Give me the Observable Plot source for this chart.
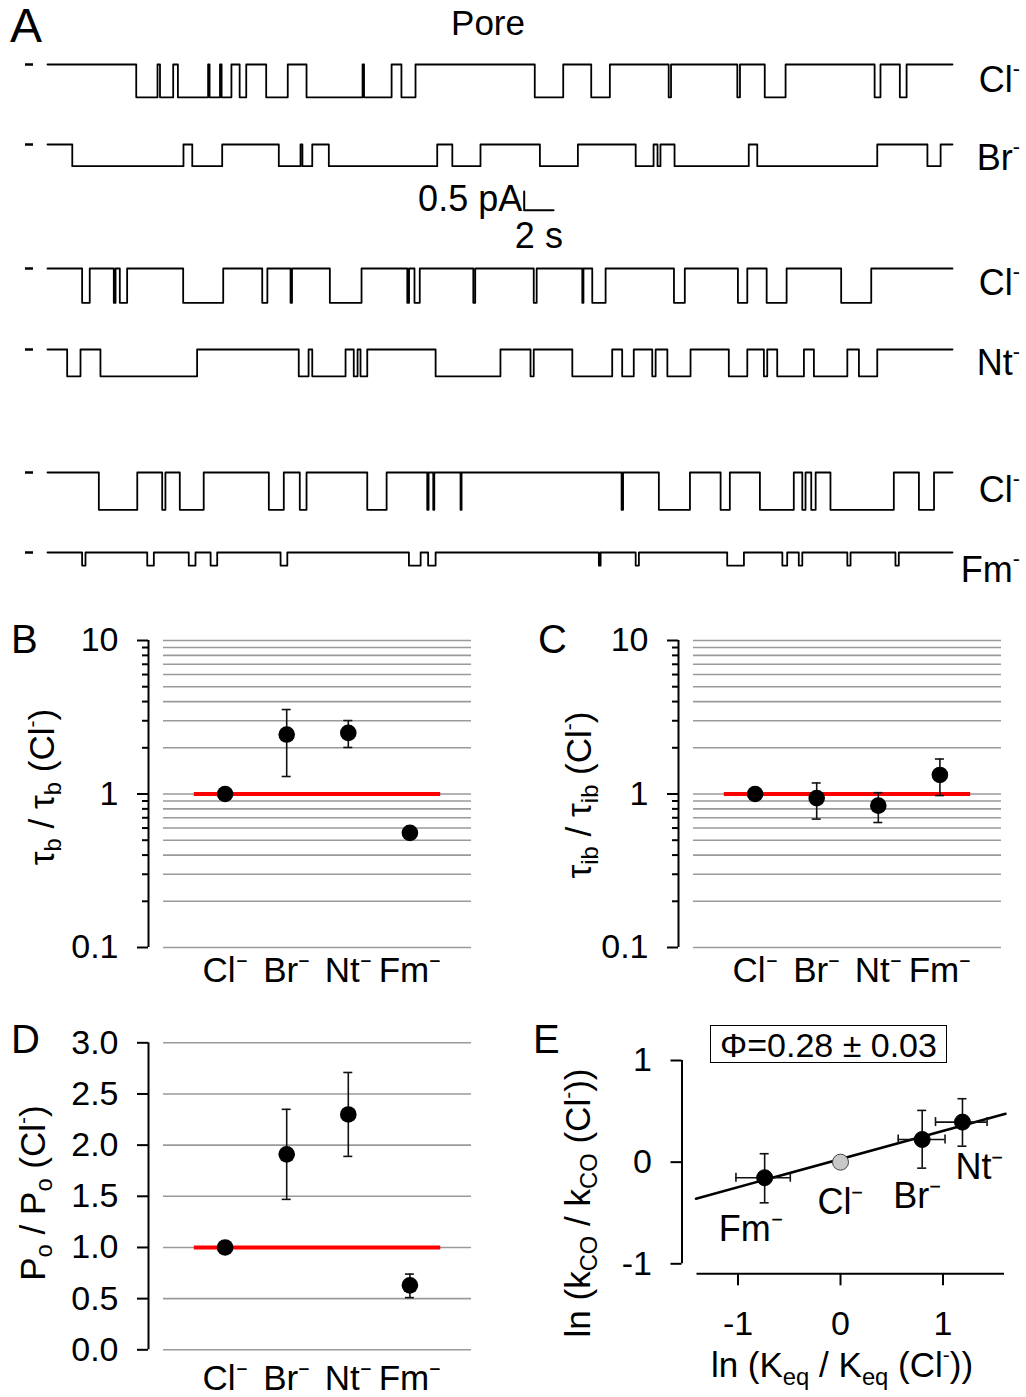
<!DOCTYPE html>
<html><head><meta charset="utf-8">
<script src="https://cdn.jsdelivr.net/npm/d3@7"></script>
<script src="https://cdn.jsdelivr.net/npm/@observablehq/plot@0.6"></script>
<style>
body{margin:0;background:#fff;}
#fig{position:relative;width:1026px;height:1397px;font-family:"Liberation Sans",Arial,sans-serif;color:#000;overflow:hidden;background:#fff}
#fig svg{position:absolute;overflow:visible;background:transparent}
.abs{position:absolute;white-space:nowrap;line-height:1}
.sub{font-size:0.68em;vertical-align:-0.32em}
.sup{font-size:0.6em;vertical-align:0.72em}
.box{position:absolute;border:1.5px solid #000;box-sizing:border-box;text-align:center;line-height:1;white-space:nowrap}
</style></head><body><div id="fig"></div>
<script>
// ---------------- Panel A: single-channel traces (toggle times in s) ----------------
const traceDuration = 61.7;            // s
const traceNames = ["Cl", "Br", "Cl", "Nt", "Cl", "Fm"];
const traceAmps = [0.88, 0.58, 0.92, 0.72, 1.0, 0.35];   // pA unitary amplitude
const toggCl1 = [6.05, 7.50, 7.67, 8.57, 8.89, 10.95, 11.05, 11.76, 11.87, 12.54, 13.10, 13.55, 14.91, 16.38, 17.66, 21.48, 21.58, 23.46, 24.13, 25.09, 33.22, 35.16, 37.07, 38.34, 42.35, 42.51, 47.03, 47.21, 48.90, 50.32, 56.39, 56.79, 58.11, 58.57];
const toggBr = [1.69, 9.27, 9.87, 11.91, 15.77, 17.25, 17.38, 18.05, 19.18, 26.57, 27.60, 29.52, 33.57, 36.16, 40.10, 41.32, 41.59, 41.79, 42.75, 47.81, 48.39, 56.57, 59.99, 60.89];
const toggCl2 = [2.36, 2.88, 4.52, 4.64, 4.93, 5.43, 9.25, 11.98, 14.64, 14.99, 16.57, 16.67, 19.25, 21.41, 24.53, 24.65, 25.02, 25.38, 29.03, 29.16, 33.15, 33.35, 36.46, 36.54, 37.14, 38.05, 42.71, 43.45, 47.07, 47.71, 49.03, 50.39, 54.11, 56.16];
const toggNt = [1.34, 2.25, 3.61, 10.20, 17.13, 17.80, 18.05, 20.32, 20.88, 21.14, 21.34, 21.80, 26.46, 30.88, 32.93, 33.15, 35.78, 38.50, 39.18, 39.97, 41.23, 41.46, 42.26, 43.84, 46.45, 47.71, 48.84, 49.07, 49.75, 51.57, 52.25, 54.53, 55.32, 56.57];
const toggCl3 = [3.50, 6.12, 7.82, 8.04, 9.02, 10.65, 15.09, 16.11, 17.20, 17.66, 21.80, 23.12, 25.89, 25.98, 26.30, 26.37, 28.16, 28.23, 39.14, 39.24, 41.68, 43.80, 45.89, 46.52, 48.57, 50.88, 51.46, 51.68, 52.07, 52.37, 53.38, 57.70, 59.41, 60.44];
const toggFm = [2.36, 2.59, 6.80, 7.25, 9.63, 10.09, 11.12, 11.57, 15.89, 16.35, 24.64, 25.44, 25.95, 26.46, 37.59, 37.71, 40.10, 40.32, 46.34, 47.48, 50.10, 50.43, 51.22, 51.46, 54.53, 54.75, 57.81, 58.04];
const traceToggles = [toggCl1, toggBr, toggCl2, toggNt, toggCl3, toggFm];
const scaleBarTime = 2;      // s
const scaleBarCurrent = 0.5; // pA

// ---------------- Panels B-E ----------------
const ions = ["Cl", "Br", "Nt", "Fm"];
const tauB   = [1, 2.44, 2.50, 0.558];
const tauBLo = [1, 1.30, 2.01, 0.558];
const tauBHi = [1, 3.55, 3.01, 0.558];
const tauIB   = [1, 0.94, 0.84, 1.33];
const tauIBLo = [1, 0.686, 0.652, 0.977];
const tauIBHi = [1, 1.18, 1.02, 1.69];
const poRel   = [1, 1.91, 2.30, 0.63];
const poRelLo = [1, 1.47, 1.89, 0.51];
const poRelHi = [1, 2.35, 2.71, 0.74];
const logMajor = [0.1, 1, 10];
const logMinor = [0.2, 0.3, 0.4, 0.5, 0.6, 0.7, 0.8, 0.9, 2, 3, 4, 5, 6, 7, 8, 9];
const poTicks = [0, 0.5, 1.0, 1.5, 2.0, 2.5, 3.0];
// E: ln(Keq/Keq(Cl)) vs ln(kCO/kCO(Cl))
const lnKeq   = [0, 0.797, 1.19, -0.74];
const lnKeqLo = [0, 0.563, 0.927, -1.02];
const lnKeqHi = [0, 1.02, 1.43, -0.49];
const lnKco   = [0, 0.223, 0.394, -0.153];
const lnKcoLo = [0, -0.059, 0.157, -0.40];
const lnKcoHi = [0, 0.509, 0.624, 0.083];
const fitX = [-1.41, 1.61];
const fitY = [-0.36, 0.476];
const eTicks = [-1, 0, 1];
const phiText = "Φ=0.28 ± 0.03";

// ---------------- layout helpers ----------------
const fig = document.getElementById("fig");
const FONT = '"Liberation Sans", Arial, sans-serif';
const TICK = 34, CAT = 35, TITLE = 35;
function put(node, left, top) { node.style.left = left + "px"; node.style.top = top + "px"; fig.appendChild(node); return node; }
function txt(html, x, baseline, size, anchor) {
  const d = document.createElement("div");
  d.className = "abs"; d.innerHTML = html; d.style.fontSize = size + "px";
  d.style.left = x + "px"; d.style.top = (baseline - 0.8465 * size) + "px";
  if (anchor === "middle") d.style.transform = "translateX(-50%)";
  if (anchor === "end") d.style.transform = "translateX(-100%)";
  fig.appendChild(d); return d;
}
function vtxt(html, cx, cy, size) {
  const d = document.createElement("div");
  d.className = "abs"; d.innerHTML = html; d.style.fontSize = size + "px";
  d.style.left = cx + "px"; d.style.top = cy + "px";
  d.style.transform = "translate(-50%,-50%) rotate(-90deg)";
  fig.appendChild(d); return d;
}
const minus = '<span class="sup">-</span>';
const baseStyle = {fontFamily: FONT, color: "black", background: "transparent", overflow: "visible"};

// ---------------- Panel A ----------------
const PXPA = 37.3;                 // px per pA (from 0.5 pA scale bar)
const traceX = {domain: [0, traceDuration], range: [47, 952], axis: null};
const traceBase = [64, 144, 268, 349, 472, 552];
const traceLabelY = [88, 166, 291, 371, 498, 578];

function stepSeries(toggles, amp) {
  const pts = [{t: 0, i: 0}];
  let level = 0;
  for (const t of toggles) { level = 1 - level; pts.push({t, i: -amp * level}); }
  pts.push({t: traceDuration, i: -amp * level});
  return pts;
}
traceToggles.forEach((tg, k) => {
  const svg = Plot.plot({
    width: 1026, height: 80, marginLeft: 33, marginRight: 0, marginTop: 0, marginBottom: 0,
    style: baseStyle,
    x: traceX,
    y: {domain: [0, -1], range: [20, 20 + PXPA]},
    marks: [
      Plot.axisY([0], {tickSize: 8, tickFormat: () => "", label: null, strokeWidth: 2.5}),
      Plot.line(stepSeries(tg, traceAmps[k]), {x: "t", y: "i", curve: "step-after", stroke: "black", strokeWidth: 1.8})
    ]
  });
  put(svg, 0, traceBase[k] - 20);
  txt(traceNames[k] + minus, 1020, traceLabelY[k], 36, "end");
});

// scale bar
{
  const s0 = 32.5;
  const bar = [{t: s0, i: 0}, {t: s0, i: -scaleBarCurrent}, {t: s0 + scaleBarTime, i: -scaleBarCurrent}];
  const svg = Plot.plot({
    width: 1026, height: 80, marginLeft: 0, marginRight: 0, marginTop: 0, marginBottom: 0,
    style: {...baseStyle, fontSize: "36px"},
    x: traceX,
    y: {domain: [0, -1], range: [20, 20 + PXPA], axis: null},
    marks: [
      Plot.line(bar, {x: "t", y: "i", stroke: "black", strokeWidth: 2}),
      Plot.text([{t: s0, i: -scaleBarCurrent / 2}], {x: "t", y: "i", text: () => scaleBarCurrent + " pA", textAnchor: "end", dx: -2, dy: -1, fontSize: 36}),
      Plot.text([{t: s0 + scaleBarTime / 2, i: -scaleBarCurrent}], {x: "t", y: "i", text: () => scaleBarTime + " s", dy: 26, fontSize: 36})
    ]
  });
  put(svg, 0, 190.7 - 20);
}
txt("A", 10, 43, 48, "start");
txt("Pore", 488, 35, 35, "middle");

// ---------------- Panels B, C, D (category plots) ----------------
function catPlot({vals, lo, hi, yScale, grid, major, minor, fmt, height, mt, mb, labPad}) {
  const pts = ions.map((n, i) => ({x: i + 1, v: vals[i]}));
  const err = ions.map((n, i) => ({x: i + 1, lo: lo[i], hi: hi[i]})).filter(d => d.hi > d.lo);
  const marks = [
    Plot.gridY(grid, {stroke: "#9a9a9a", strokeOpacity: 1, strokeWidth: 1.6}),
    Plot.ruleY([1], {x1: 0.5, x2: ions.length + 0.5, stroke: "#ff0000", strokeWidth: 4}),
    Plot.ruleX([0], {y1: yScale.domain[0], y2: yScale.domain[1], dx: -15, stroke: "black", strokeWidth: 2}),
    Plot.axisY(major, {tickSize: 11, tickPadding: 19, dx: -15, strokeWidth: 2, fontSize: TICK, label: null, tickFormat: fmt}),
  ];
  if (minor) marks.push(Plot.axisY(minor, {tickSize: 6, dx: -15, strokeWidth: 2, label: null, tickFormat: () => ""}));
  marks.push(
    Plot.axisX([1, 2, 3, 4], {tickSize: 0, tickPadding: labPad, fontSize: CAT, label: null, tickFormat: i => ions[i - 1] + "⁻"}),
    Plot.ruleX(err, {x: "x", y1: "lo", y2: "hi", stroke: "#111", strokeWidth: 1.6}),
    Plot.ruleY(err, {y: "hi", x1: "x", x2: "x", insetLeft: -4.5, insetRight: -4.5, stroke: "#111", strokeWidth: 1.6}),
    Plot.ruleY(err, {y: "lo", x1: "x", x2: "x", insetLeft: -4.5, insetRight: -4.5, stroke: "#111", strokeWidth: 1.6}),
    Plot.dot(pts, {x: "x", y: "v", r: 8.3, fill: "black", stroke: "none"})
  );
  return Plot.plot({
    width: 496, height, marginLeft: 163, marginRight: 25, marginTop: mt, marginBottom: mb,
    style: {...baseStyle, fontSize: TICK + "px"},
    x: {domain: [0, 5]},
    y: yScale,
    marks
  });
}
const logGrid = [...logMajor, ...logMinor];
put(catPlot({vals: tauB, lo: tauBLo, hi: tauBHi, yScale: {type: "log", domain: [0.1, 10]}, grid: logGrid,
  major: logMajor, minor: logMinor, fmt: d => String(d), height: 400, mt: 40, mb: 53, labPad: 10}), 0, 600);
put(catPlot({vals: tauIB, lo: tauIBLo, hi: tauIBHi, yScale: {type: "log", domain: [0.1, 10]}, grid: logGrid,
  major: logMajor, minor: logMinor, fmt: d => String(d), height: 400, mt: 40, mb: 53, labPad: 10}), 530, 600);
put(catPlot({vals: poRel, lo: poRelLo, hi: poRelHi, yScale: {type: "linear", domain: [0, 3]}, grid: poTicks,
  major: poTicks, minor: null, fmt: d => d.toFixed(1), height: 397, mt: 42.3, mb: 47.7, labPad: 15}), 0, 1000);

txt("B", 11, 653, 40, "start");
txt("C", 538, 653, 40, "start");
txt("D", 11, 1053, 40, "start");
txt("E", 533, 1053, 40, "start");
vtxt('τ<span class="sub">b</span> / τ<span class="sub">b</span> (Cl' + minus + ')', 43, 787, TITLE);
vtxt('τ<span class="sub">ib</span> / τ<span class="sub">ib</span> (Cl' + minus + ')', 580, 795, TITLE);
vtxt('P<span class="sub">o</span> / P<span class="sub">o</span> (Cl' + minus + ')', 34, 1193, TITLE);

// ---------------- Panel E ----------------
{
  const pts = ions.map((n, i) => ({n, x: lnKeq[i], y: lnKco[i], xlo: lnKeqLo[i], xhi: lnKeqHi[i], ylo: lnKcoLo[i], yhi: lnKcoHi[i]}));
  const err = pts.filter(d => d.n !== "Cl");
  const fit = fitX.map((x, i) => ({x, y: fitY[i]}));
  const off = {Cl: [0, 40], Br: [-5, 57], Nt: [17, 45], Fm: [-14, 52]};
  const ecol = "#111";
  const svg = Plot.plot({
    width: 496, height: 397, marginLeft: 166.5, marginRight: 22, marginTop: 60, marginBottom: 133.7,
    style: {...baseStyle, fontSize: TICK + "px"},
    x: {domain: [-1.4, 1.6]},
    y: {domain: [-1, 1]},
    marks: [
      Plot.ruleY([-1], {dy: 10, stroke: "black", strokeWidth: 2}),
      Plot.axisX(eTicks, {dy: 10, tickSize: 12, tickPadding: 25, strokeWidth: 2, fontSize: TICK, label: null, tickFormat: d => String(d)}),
      Plot.ruleX([-1.4], {y1: -1, y2: 1, dx: -15, stroke: "black", strokeWidth: 2}),
      Plot.axisY(eTicks, {tickSize: 11, tickPadding: 19, dx: -15, strokeWidth: 2, fontSize: TICK, label: null, tickFormat: d => String(d)}),
      Plot.line(fit, {x: "x", y: "y", stroke: "black", strokeWidth: 2.5}),
      Plot.ruleY(err, {y: "y", x1: "xlo", x2: "xhi", stroke: ecol, strokeWidth: 1.6}),
      Plot.ruleX(err, {x: "xlo", y1: "y", y2: "y", insetTop: -4.5, insetBottom: -4.5, stroke: ecol, strokeWidth: 1.6}),
      Plot.ruleX(err, {x: "xhi", y1: "y", y2: "y", insetTop: -4.5, insetBottom: -4.5, stroke: ecol, strokeWidth: 1.6}),
      Plot.ruleX(err, {x: "x", y1: "ylo", y2: "yhi", stroke: ecol, strokeWidth: 1.6}),
      Plot.ruleY(err, {y: "ylo", x1: "x", x2: "x", insetLeft: -4.5, insetRight: -4.5, stroke: ecol, strokeWidth: 1.6}),
      Plot.ruleY(err, {y: "yhi", x1: "x", x2: "x", insetLeft: -4.5, insetRight: -4.5, stroke: ecol, strokeWidth: 1.6}),
      Plot.dot(pts, {x: "x", y: "y", r: 8, fill: d => d.n === "Cl" ? "#c8c8c8" : "black", stroke: d => d.n === "Cl" ? "#444" : "black", strokeWidth: 1}),
      ...ions.map(n => Plot.text(pts.filter(d => d.n === n), {x: "x", y: "y", text: d => d.n + "⁻", dx: off[n][0], dy: off[n][1], fontSize: 36}))
    ]
  });
  put(svg, 530, 1000);
}
const pb = document.createElement("div");
pb.className = "box"; pb.textContent = phiText;
pb.style.cssText += "width:237px;height:38px;font-size:34px;padding-top:2px;";
put(pb, 710, 1025);
vtxt('ln (k<span class="sub">CO</span> / k<span class="sub">CO</span> (Cl' + minus + '))', 579, 1203, TITLE);
txt('ln (K<span class="sub">eq</span> / K<span class="sub">eq</span> (Cl' + minus + '))', 842, 1374, TITLE, "middle");
</script></body></html>
